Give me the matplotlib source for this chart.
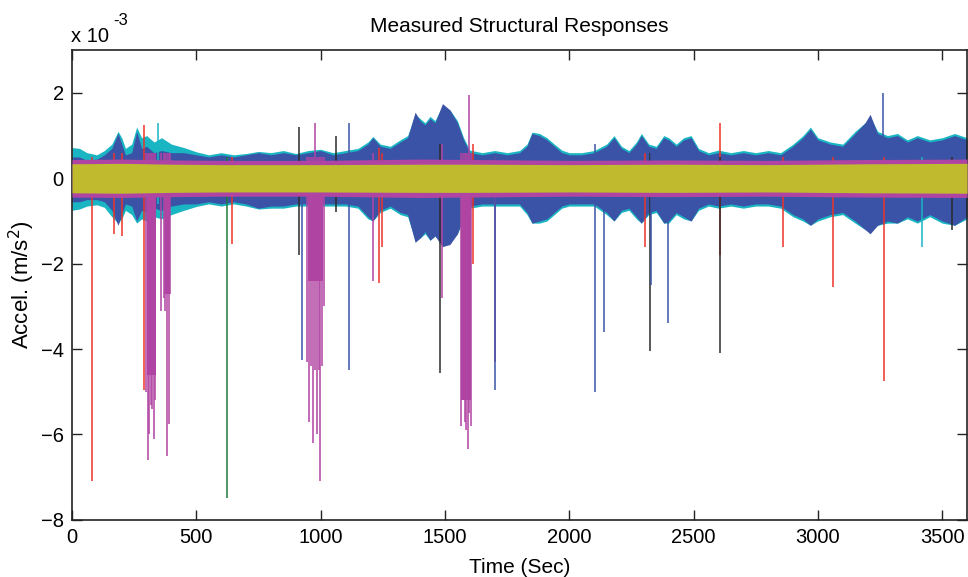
import numpy as np
import matplotlib
matplotlib.use('Agg')
import matplotlib.pyplot as plt

plt.rcParams['font.family'] = ['Liberation Sans', 'DejaVu Sans']

# %% data (acceleration in units of 1e-3 m/s^2)
t_env = [0, 30, 60, 100, 130, 160, 185, 200, 215, 240, 260, 280, 300, 330, 360, 400, 450, 500,
         550, 600, 650, 700, 750, 800, 850, 900, 950, 1000, 1050, 1100, 1150, 1190, 1210, 1240,
         1280, 1320, 1350, 1380, 1400, 1420, 1440, 1460, 1490, 1520, 1550, 1575, 1600, 1650,
         1700, 1750, 1800, 1830, 1850, 1880, 1910, 1940, 1970, 2000, 2050, 2100, 2150, 2180,
         2210, 2240, 2270, 2290, 2320, 2350, 2380, 2400, 2430, 2460, 2490, 2520, 2560, 2600,
         2650, 2700, 2750, 2800, 2850, 2900, 2940, 2970, 3000, 3050, 3100, 3150, 3190, 3210,
         3240, 3280, 3320, 3360, 3400, 3450, 3500, 3550, 3600]

# dark blue channel (outer envelope from ~500 s on)
blue_up = [0.5, 0.5, 0.42, 0.45, 0.55, 0.7, 1.05, 0.8, 0.55, 0.6, 1.1, 0.7, 0.75, 0.6, 0.65, 0.6, 0.6, 0.55,
           0.5, 0.55, 0.5, 0.55, 0.6, 0.55, 0.6, 0.55, 0.6, 0.65, 0.55, 0.6, 0.65, 0.8, 0.95, 0.75,
           0.7, 0.85, 0.95, 1.55, 1.35, 1.25, 1.4, 1.3, 1.75, 1.6, 1.3, 0.9, 0.6, 0.55,
           0.6, 0.55, 0.6, 0.75, 1.05, 1.0, 0.9, 0.75, 0.6, 0.55, 0.55, 0.6, 0.75, 0.95,
           0.7, 0.6, 0.8, 1.0, 0.75, 0.7, 0.95, 0.9, 0.75, 0.9, 0.95, 0.65, 0.55, 0.6,
           0.55, 0.6, 0.55, 0.6, 0.55, 0.75, 0.95, 1.15, 0.9, 0.8, 0.75, 1.05, 1.3, 1.5,
           1.05, 0.95, 1.0, 0.85, 0.95, 0.85, 0.9, 1.0, 0.9]

blue_lo = [-0.55, -0.55, -0.5, -0.5, -0.55, -0.75, -1.1, -0.85, -0.6, -0.65, -1.0, -0.75, -0.8, -0.7, -0.75, -0.65, -0.6, -0.6,
           -0.55, -0.6, -0.55, -0.6, -0.7, -0.65, -0.65, -0.6, -0.6, -0.6, -0.6, -0.6, -0.65, -0.9, -1.0, -0.75,
           -0.65, -0.8, -0.85, -1.5, -1.4, -1.25, -1.45, -1.35, -1.6, -1.55, -1.3, -0.9, -0.65, -0.6,
           -0.6, -0.6, -0.6, -0.8, -1.05, -1.0, -0.95, -0.8, -0.65, -0.6, -0.6, -0.6, -0.8, -1.0,
           -0.75, -0.7, -0.9, -1.05, -0.8, -0.75, -1.05, -1.0, -0.8, -0.9, -1.0, -0.7, -0.6, -0.65,
           -0.6, -0.65, -0.6, -0.6, -0.65, -0.85, -0.95, -1.1, -0.95, -0.85, -0.8, -1.0, -1.2, -1.3,
           -1.1, -1.0, -1.05, -0.9, -1.0, -0.85, -1.0, -1.1, -0.9]

# cyan channel (outer envelope up to ~500 s, thin fringe afterwards)
cyan_up = [0.72, 0.7, 0.6, 0.55, 0.65, 0.8, 1.1, 0.95, 0.7, 0.8, 1.2, 0.95, 1.0, 0.85, 0.95, 0.8, 0.72, 0.62,
           0.55, 0.6, 0.55, 0.58, 0.63, 0.6, 0.65, 0.58, 0.65, 0.68, 0.6, 0.65, 0.7, 0.85, 0.98, 0.8,
           0.75, 0.9, 1.0, 1.5, 1.4, 1.3, 1.45, 1.35, 1.7, 1.6, 1.35, 0.95, 0.66, 0.6,
           0.65, 0.6, 0.65, 0.8, 1.08, 1.05, 0.95, 0.8, 0.66, 0.6, 0.6, 0.65, 0.8, 1.0,
           0.75, 0.65, 0.85, 1.05, 0.8, 0.75, 1.0, 0.95, 0.8, 0.95, 1.0, 0.7, 0.6, 0.66,
           0.6, 0.65, 0.6, 0.65, 0.6, 0.8, 1.0, 1.2, 0.95, 0.85, 0.8, 1.1, 1.3, 1.45,
           1.1, 1.0, 1.05, 0.9, 1.0, 0.9, 0.95, 1.05, 0.95]

cyan_lo = [-0.75, -0.72, -0.65, -0.62, -0.68, -0.9, -1.05, -0.95, -0.75, -0.85, -1.05, -0.95, -1.0, -0.9, -0.95, -0.85, -0.75, -0.66,
           -0.6, -0.65, -0.6, -0.65, -0.72, -0.7, -0.7, -0.65, -0.65, -0.65, -0.65, -0.65, -0.7, -0.95, -1.0, -0.8,
           -0.7, -0.85, -0.9, -1.45, -1.4, -1.3, -1.45, -1.35, -1.55, -1.5, -1.3, -0.95, -0.7, -0.65,
           -0.65, -0.65, -0.65, -0.85, -1.05, -1.05, -1.0, -0.85, -0.7, -0.65, -0.65, -0.65, -0.85, -1.0,
           -0.8, -0.75, -0.95, -1.05, -0.85, -0.8, -1.05, -1.05, -0.85, -0.95, -1.0, -0.75, -0.65, -0.7,
           -0.65, -0.7, -0.65, -0.65, -0.7, -0.9, -1.0, -1.1, -1.0, -0.9, -0.85, -1.05, -1.2, -1.25,
           -1.1, -1.05, -1.05, -0.95, -1.05, -0.9, -1.05, -1.1, -0.95]

# inner bands (magenta / yellow), slowly varying
t_band = [0, 200, 400, 600, 1000, 1400, 1600, 2000, 2400, 2800, 3200, 3600]
mag_amp = [0.44, 0.45, 0.43, 0.42, 0.42, 0.45, 0.44, 0.42, 0.43, 0.42, 0.44, 0.45]
yel_amp = [0.34, 0.35, 0.33, 0.32, 0.32, 0.33, 0.33, 0.32, 0.33, 0.32, 0.34, 0.35]

# dense bursts of drop-outs (magenta channel): start, end, depth
burst_t0 = [300, 372, 950, 1566]
burst_t1 = [336, 394, 1008, 1604]
burst_lo = [-4.6, -2.7, -2.4, -5.2]

# isolated spikes: time, bottom, top, colour key
spike_t   = [80, 170, 200, 288, 298, 305, 310, 316, 322, 328, 334, 358, 368, 375, 382, 390, 395,
             623, 645, 913, 925, 945, 955, 962, 970, 977, 985, 992, 998, 1005, 1012, 1060, 1114,
             1210, 1235, 1248, 1480, 1490, 1565, 1572, 1580, 1586, 1593, 1598, 1606, 1612, 1700, 1702,
             2105, 2140, 2305, 2325, 2330, 2398, 2607, 2608, 2860, 3062, 3263, 3265, 3420, 3540, 345]
spike_lo  = [-7.08, -1.3, -1.35, -4.95, -5.0, -6.6, -6.0, -5.3, -5.4, -6.1, -5.2, -3.1, -2.8, -3.1, -6.5, -5.75, -2.7,
             -7.48, -1.55, -1.8, -4.25, -4.3, -5.7, -4.4, -6.2, -4.5, -6.0, -4.5, -7.1, -4.4, -3.0, -0.8, -4.5,
             -2.4, -2.45, -1.6, -4.55, -2.8, -5.8, -5.2, -5.7, -5.9, -6.35, -5.5, -5.8, -2.0, -4.3, -4.95,
             -5.0, -3.6, -1.6, -4.05, -2.5, -3.4, -1.8, -4.1, -1.6, -2.55, -1.0, -4.75, -1.6, -1.2, -0.6]
spike_hi  = [0.5, 0.6, 0.6, 1.25, 0.6, 0.6, 0.6, 0.6, 0.6, 0.6, 0.6, 0.6, 0.6, 0.6, 0.6, 0.6, 0.6,
             0.5, 0.5, 1.2, 0.5, 0.5, 0.5, 0.5, 0.5, 1.3, 0.5, 0.5, 0.5, 0.5, 0.5, 1.0, 1.3,
             0.6, 0.7, 0.6, 0.8, 0.8, 0.6, 0.6, 0.6, 0.6, 0.6, 1.95, 0.6, 0.8, 0.5, 0.5,
             0.8, 0.6, 0.6, 0.6, 0.6, 0.6, 1.3, 0.5, 0.5, 0.5, 2.0, 0.5, 0.5, 0.5, 1.3]
spike_col = ['r', 'r', 'r', 'r', 'm', 'm', 'm', 'm', 'm', 'm', 'm', 'm', 'm', 'm', 'm', 'm', 'm',
             'g', 'r', 'k', 'b', 'm', 'm', 'm', 'm', 'm', 'm', 'm', 'm', 'm', 'm', 'k', 'b',
             'm', 'r', 'r', 'k', 'm', 'm', 'm', 'm', 'm', 'm', 'm', 'm', 'r', 'm', 'b',
             'b', 'b', 'r', 'k', 'b', 'b', 'r', 'k', 'r', 'r', 'b', 'r', 'c', 'k', 'c']

colors = {'b': '#3a53a6', 'c': '#1ab5c3', 'm': '#b044a3', 'r': '#ec3328',
          'g': '#1d7a3c', 'k': '#2b2b2b', 'y': '#bfba2e'}

# %% plot
fig = plt.figure(figsize=(9.68, 5.77), dpi=100)
ax = fig.add_axes([0.0744, 0.099, 0.9246, 0.814])

ax.fill_between(t_env, cyan_lo, cyan_up, color=colors['c'], lw=0, zorder=1)
ax.fill_between(t_env, blue_lo, blue_up, color=colors['b'], lw=0, zorder=2)

for i in range(len(burst_t0)):
    ax.fill_between([burst_t0[i], burst_t1[i]], [burst_lo[i]] * 2, [0, 0],
                    color=colors['m'], lw=0, zorder=3)

ax.vlines(spike_t, spike_lo, spike_hi, colors=[colors[c] for c in spike_col],
          lw=1.1, zorder=3)

ax.fill_between(t_band, [-a for a in mag_amp], mag_amp, color=colors['m'], lw=0, zorder=4)
ax.fill_between(t_band, [-a for a in yel_amp], yel_amp, color=colors['y'], lw=0, zorder=5)

ax.set_xlim(0, 3600)
ax.set_ylim(-8, 3)
ax.set_xticks([0, 500, 1000, 1500, 2000, 2500, 3000, 3500])
ax.set_yticks([-8, -6, -4, -2, 0, 2])
ax.tick_params(direction='in', length=7, width=1, labelsize=14.5, top=True, right=True,
               pad=6, colors='#222222', labelcolor='black')
for s in ax.spines.values():
    s.set_linewidth(1.2)
    s.set_color('#222222')

ax.set_title('Measured Structural Responses', fontsize=15, pad=13)
ax.set_xlabel('Time (Sec)', fontsize=15, labelpad=8)
ax.set_ylabel('Accel. (m/s$^2$)', fontsize=16, labelpad=3)
fig.text(0.073, 0.927, 'x 10', fontsize=14.5, ha='left', va='baseline')
fig.text(0.117, 0.957, '-3', fontsize=12, ha='left', va='baseline')

fig.savefig('out.png', dpi=100)
